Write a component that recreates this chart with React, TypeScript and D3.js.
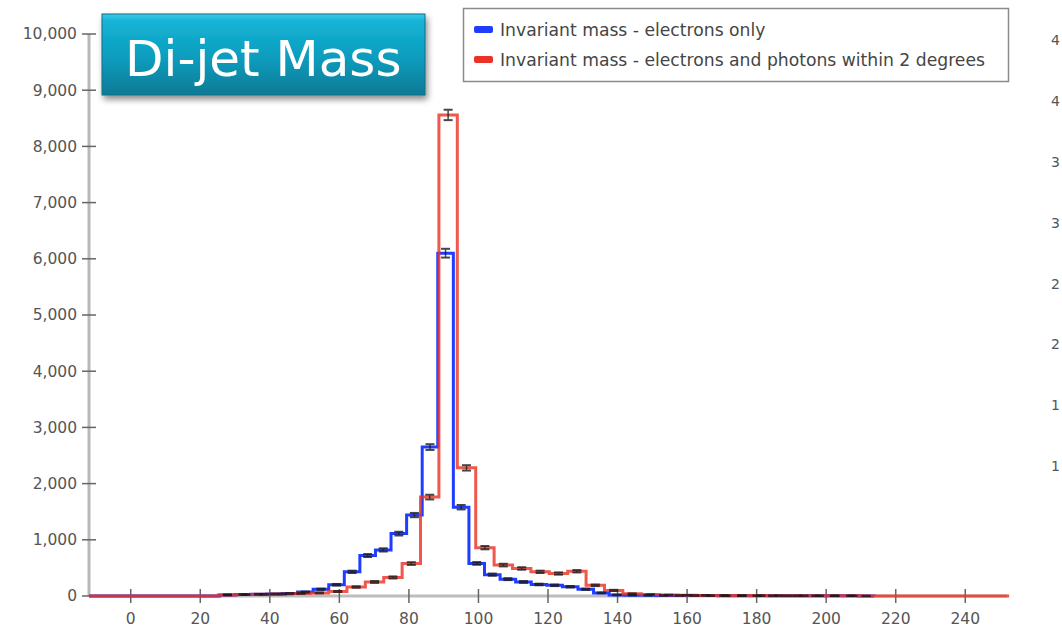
import React from "react";
import * as d3 from "d3";

// Histogram bins: each series has its own start edge, bin width and 48 counts.
const BLUE_START = -1.3;
const BLUE_WIDTH = 4.48;
const BLUE_COUNTS = [
  0, 0, 0, 0, 0, 0,
  20, 25, 30, 35, 45, 70,
  120, 200, 430, 720, 820, 1110, 1440, 2650, 6100, 1580,
  580, 380, 300, 250, 205, 190, 165, 120, 55, 20,
  15, 12, 10, 9, 8, 7, 6, 6, 5, 5, 4, 4, 3, 3, 3, 2,
];

const RED_START = -1.3;
const RED_WIDTH = 5.29;
const RED_COUNTS = [
  0, 0, 0, 0, 0,
  20, 25, 30, 35, 45, 55, 80,
  160, 250, 330, 577, 1760, 8560, 2280, 860,
  550, 490, 430, 400, 440, 190, 100, 40,
  25, 18, 14, 11, 9, 8, 7, 6, 5, 4, 3, 3,
  0, 0, 0, 0, 0, 0, 0, 0,
];

const X_TICKS = [0, 20, 40, 60, 80, 100, 120, 140, 160, 180, 200, 220, 240];
const Y_TICKS = [0, 1000, 2000, 3000, 4000, 5000, 6000, 7000, 8000, 9000, 10000];
const X_DOMAIN = [-12, 252];
const Y_DOMAIN = [0, 10000];

const LEGEND_LABELS = [
  "Invariant mass - electrons only",
  "Invariant mass - electrons and photons within 2 degrees",
];
const TITLE = "Di-jet Mass";

// Leading digits of the neighbouring panel's axis labels at the right border.
const NEXT_PANEL_LABELS = ["4", "4", "3", "3", "2", "2", "1", "1"];

const W = 1062;
const H = 630;
const BLUE = "#1f3dff";
const RED = "#ea3326";
const FONT = "'DejaVu Sans', Verdana, sans-serif";

const x = d3.scaleLinear().domain(X_DOMAIN).range([89, 1007]);
const y = d3.scaleLinear().domain(Y_DOMAIN).range([596, 34]);

type Bin = { x0: number; x1: number; v: number };

function makeBins(start: number, width: number, counts: number[]): Bin[] {
  return counts.map((v, i) => ({ x0: start + i * width, x1: start + (i + 1) * width, v }));
}

function stepPath(bins: Bin[]): string {
  const pts: [number, number][] = [[X_DOMAIN[0], 0], [bins[0].x0, 0]];
  bins.forEach((b) => {
    pts.push([b.x0, b.v]);
    pts.push([b.x1, b.v]);
  });
  pts.push([bins[bins.length - 1].x1, 0]);
  const line = d3
    .line<[number, number]>()
    .x((d) => x(d[0]))
    .y((d) => y(d[1]));
  return line(pts) || "";
}

function ErrorBars({ bins }: { bins: Bin[] }) {
  return (
    <g stroke="#1a1a1a" strokeWidth={2} opacity={0.8}>
      {bins
        .filter((b) => b.v > 0)
        .map((b, i) => {
          const cx = x((b.x0 + b.x1) / 2);
          const e = Math.sqrt(b.v);
          const yt = y(b.v + e);
          const yb = y(Math.max(0, b.v - e));
          return (
            <g key={i}>
              <line x1={cx} x2={cx} y1={yt} y2={yb} strokeWidth={1.5} />
              <line x1={cx - 4.5} x2={cx + 4.5} y1={yt} y2={yt} />
              <line x1={cx - 4.5} x2={cx + 4.5} y1={yb} y2={yb} />
            </g>
          );
        })}
    </g>
  );
}

export default function App() {
  const blueBins = makeBins(BLUE_START, BLUE_WIDTH, BLUE_COUNTS);
  const redBins = makeBins(RED_START, RED_WIDTH, RED_COUNTS);
  const x0 = x(X_DOMAIN[0]);
  const x1 = x(X_DOMAIN[1]);

  return (
    <svg
      width={W}
      height={H}
      viewBox={`0 0 ${W} ${H}`}
      style={{ position: "absolute", left: 0, top: 0, background: "#fff" }}
    >
      <defs>
        <linearGradient id="titleFill" x1="0" y1="0" x2="0" y2="1">
          <stop offset="0" stopColor="#3fcbe8" />
          <stop offset="0.08" stopColor="#16b4d6" />
          <stop offset="0.55" stopColor="#0b9cbd" />
          <stop offset="1" stopColor="#087a95" />
        </linearGradient>
        <filter id="titleShadow" x="-10%" y="-20%" width="125%" height="150%">
          <feDropShadow dx="2" dy="4" stdDeviation="3" floodColor="#000" floodOpacity="0.45" />
        </filter>
      </defs>

      {/* axes */}
      <line x1={x0} x2={x0} y1={y(Y_DOMAIN[1])} y2={y(0)} stroke="#b8b8b8" strokeWidth={3} />
      <line x1={x0} x2={x1} y1={y(0)} y2={y(0)} stroke="#bdbdbd" strokeWidth={3} />

      {Y_TICKS.map((t) => (
        <g key={t}>
          <line x1={x0 - 7} x2={x0 + 7} y1={y(t)} y2={y(t)} stroke="#666" strokeWidth={1.5} />
          <text
            x={77}
            y={y(t)}
            dy="0.35em"
            textAnchor="end"
            fontFamily={FONT}
            fontSize={15.5}
            fill="#555"
          >
            {d3.format(",")(t)}
          </text>
        </g>
      ))}

      {X_TICKS.map((t) => (
        <g key={t}>
          <line x1={x(t)} x2={x(t)} y1={y(0) - 7} y2={y(0) + 7} stroke="#666" strokeWidth={1.5} />
          <text
            x={x(t)}
            y={624}
            textAnchor="middle"
            fontFamily={FONT}
            fontSize={15.5}
            fill="#555"
          >
            {t}
          </text>
        </g>
      ))}

      {/* histograms */}
      <path d={stepPath(blueBins)} fill="none" stroke={BLUE} strokeWidth={3} strokeLinejoin="miter" />
      <path
        d={stepPath(redBins)}
        fill="none"
        stroke={RED}
        strokeWidth={3}
        strokeOpacity={0.82}
        strokeLinejoin="miter"
      />
      <ErrorBars bins={blueBins} />
      <ErrorBars bins={redBins} />

      {/* legend */}
      <rect x={463.5} y={8.5} width={545} height={73} fill="#fff" stroke="#8a8a8a" strokeWidth={1.5} />
      {LEGEND_LABELS.map((label, i) => (
        <g key={label} transform={`translate(0, ${30 + i * 30})`}>
          <rect x={474} y={-4} width={19} height={7} rx={2} fill={i === 0 ? BLUE : RED} />
          <text x={500} y={0} dy="0.36em" fontFamily={FONT} fontSize={17.2} fill="#454545">
            {label}
          </text>
        </g>
      ))}

      {/* title badge */}
      <rect
        x={102}
        y={14}
        width={323}
        height={81}
        fill="url(#titleFill)"
        stroke="#0a6e86"
        strokeWidth={1}
        filter="url(#titleShadow)"
      />
      <text x={125} y={76} fontFamily={FONT} fontSize={50} fill="#fff">
        {TITLE}
      </text>

      {/* neighbouring panel's axis labels at the right border */}
      {NEXT_PANEL_LABELS.map((s, i) => (
        <text key={i} x={1051} y={40 + i * 60.9} dy="0.35em" fontFamily={FONT} fontSize={14} fill="#555">
          {s}
        </text>
      ))}
    </svg>
  );
}
